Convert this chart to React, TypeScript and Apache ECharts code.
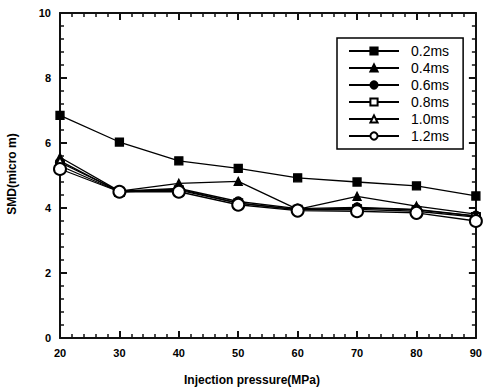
import React, { useEffect, useRef } from "react";
import * as echarts from "echarts";

const pressures = [20, 30, 40, 50, 60, 70, 80, 90];
const seriesNames = ["0.2ms", "0.4ms", "0.6ms", "0.8ms", "1.0ms", "1.2ms"];
const smd02 = [6.85, 6.03, 5.45, 5.22, 4.93, 4.8, 4.68, 4.37];
const smd04 = [5.56, 4.52, 4.76, 4.82, 3.96, 4.36, 4.06, 3.81];
const smd06 = [5.4, 4.52, 4.6, 4.2, 3.98, 4.02, 3.96, 3.76];
const smd08 = [5.3, 4.5, 4.55, 4.15, 3.95, 3.96, 3.9, 3.72];
const smd10 = [5.45, 4.5, 4.58, 4.15, 3.95, 4.0, 3.94, 3.75];
const smd12 = [5.2, 4.5, 4.5, 4.1, 3.92, 3.9, 3.85, 3.6];
const xTitle = "Injection pressure(MPa)";
const yTitle = "SMD(micro m)";

const allValues = [smd02, smd04, smd06, smd08, smd10, smd12];
const symbols = ["rect", "triangle", "circle", "emptyRect", "emptyTriangle", "emptyCircle"];
const symbolSizes = [8, 8, 9, 8, 8, 12];

const INK = "#111111";

function axisParts() {
  return {
    axisLine: { show: true, onZero: false, lineStyle: { color: INK, width: 2 } },
    axisTick: { show: true, inside: true, length: 7, lineStyle: { color: INK, width: 2 } },
    minorTick: { show: true, splitNumber: 5, length: 4, lineStyle: { color: INK, width: 1.5 } },
    splitLine: { show: true, lineStyle: { color: "rgba(0,0,0,0)", width: 0 } },
  };
}

export default function App() {
  const ref = useRef<HTMLDivElement>(null);
  useEffect(() => {
    if (!ref.current) return;
    const chart = echarts.init(ref.current, undefined, { renderer: "svg" });
    const font = "Liberation Sans, Arial, sans-serif";
    const lbl = { color: "#000", fontSize: 11, fontWeight: "bold", fontFamily: font, margin: 9 };
    chart.setOption({
      animation: false,
      grid: { left: 60, right: 4, top: 13, bottom: 54 },
      legend: {
        orient: "vertical",
        left: 337,
        top: 38,
        data: seriesNames,
        borderColor: "#000",
        borderWidth: 1.5,
        borderRadius: 0,
        padding: [6, 14, 6, 11],
        itemWidth: 50,
        itemHeight: 9,
        itemGap: 3,
        textStyle: { color: "#000", fontSize: 14, fontFamily: font, padding: [0, 0, 0, 7] },
      },
      graphic: [
        {
          type: "text",
          x: 252,
          y: 380,
          style: {
            text: xTitle,
            fill: "#000",
            font: "bold 12px Liberation Sans, Arial, sans-serif",
            align: "center",
            verticalAlign: "middle",
            textAlign: "center",
            textVerticalAlign: "middle",
          },
        },
        {
          type: "text",
          x: 12,
          y: 174,
          rotation: Math.PI / 2,
          style: {
            text: yTitle,
            fill: "#000",
            font: "bold 12px Liberation Sans, Arial, sans-serif",
            align: "center",
            verticalAlign: "middle",
            textAlign: "center",
            textVerticalAlign: "middle",
          },
        },
      ],
      xAxis: [
        { type: "value", min: 20, max: 90, interval: 10, position: "bottom", axisLabel: lbl, ...axisParts() },
        { type: "value", min: 20, max: 90, interval: 10, position: "top", axisLabel: { show: false }, ...axisParts() },
      ],
      yAxis: [
        { type: "value", min: 0, max: 10, interval: 2, position: "left", axisLabel: lbl, ...axisParts() },
        { type: "value", min: 0, max: 10, interval: 2, position: "right", axisLabel: { show: false }, ...axisParts() },
      ],
      series: seriesNames.map((name, i) => ({
        name,
        type: "line",
        xAxisIndex: 0,
        yAxisIndex: 0,
        data: pressures.map((p, j) => [p, allValues[i][j]]),
        symbol: symbols[i],
        symbolSize: symbolSizes[i],
        showAllSymbol: true,
        lineStyle: { color: "#000", width: 1.3 },
        itemStyle: { color: "#000", borderColor: "#000", borderWidth: 1.3 },
      })),
    });
    return () => chart.dispose();
  }, []);
  return <div ref={ref} style={{ position: "fixed", left: 0, top: 0, width: 485, height: 392, background: "#fff" }} />;
}
